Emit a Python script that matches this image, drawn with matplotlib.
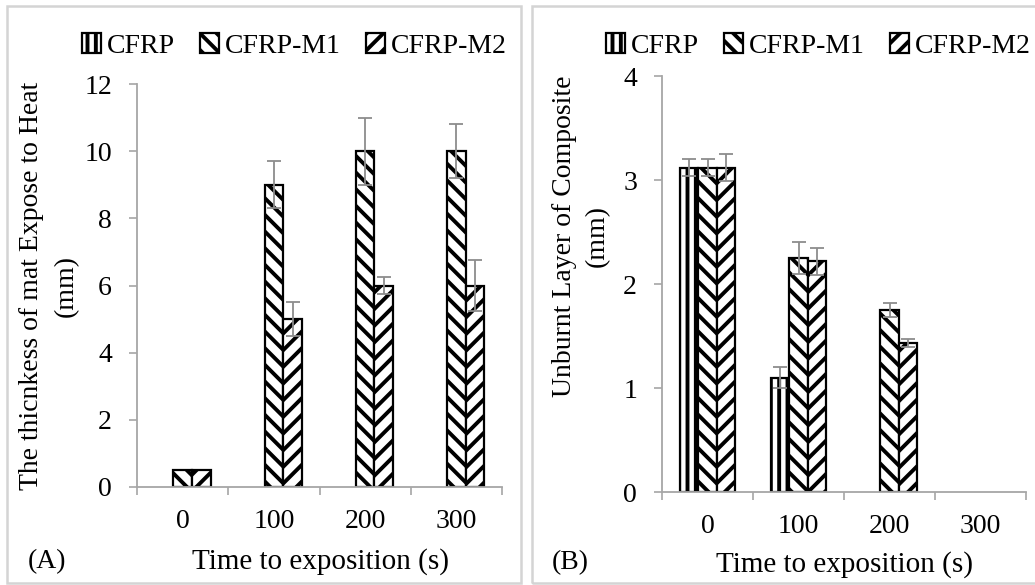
import matplotlib
matplotlib.use('Agg')
import matplotlib.pyplot as plt
from matplotlib.patches import Rectangle
import numpy as np

plt.rcParams['font.family'] = ['Liberation Serif', 'DejaVu Serif']
plt.rcParams['hatch.linewidth'] = 2.8
plt.rcParams['hatch.color'] = 'black'

times = ['0', '100', '200', '300']
series = ['CFRP', 'CFRP-M1', 'CFRP-M2']
hatches = ['||', '\\\\', '//']

# (A) thickness of mat exposed to heat (mm)
mat_cfrp = [0, 0, 0, 0]
mat_m1 = [0.5, 9.0, 10.0, 10.0]
mat_m2 = [0.5, 5.0, 6.0, 6.0]
mat_cfrp_err = [0, 0, 0, 0]
mat_m1_err = [0, 0.7, 1.0, 0.8]
mat_m2_err = [0, 0.5, 0.25, 0.75]

# (B) unburnt layer of composite (mm)
unb_cfrp = [3.12, 1.10, 0, 0]
unb_m1 = [3.12, 2.25, 1.75, 0]
unb_m2 = [3.12, 2.22, 1.43, 0]
unb_cfrp_err = [0.08, 0.10, 0, 0]
unb_m1_err = [0.08, 0.15, 0.07, 0]
unb_m2_err = [0.13, 0.13, 0.04, 0]

W, H = 1035, 585
FS = 20
AXC = '#a6a6a6'
fig = plt.figure(figsize=(W / 100, H / 100), dpi=100)


def fx(px):
    return px / W


def fy(py):
    return 1 - py / H


def draw_panel(rect, vals, errs, ymax, ystep):
    ax = fig.add_axes(rect)
    x = np.arange(len(times))
    w = 0.205
    for i, (v, e, h) in enumerate(zip(vals, errs, hatches)):
        b = ax.bar(x + (i - 1) * w, v, w, facecolor='white', edgecolor='black',
                   linewidth=1.6, hatch=h, zorder=2)
        # zero-height bars are not drawn in the original
        for patch in b:
            if patch.get_height() == 0:
                patch.set_visible(False)
        ev = np.array(v, dtype=float)
        ee = np.array(e, dtype=float)
        m = ee > 0
        ax.errorbar((x + (i - 1) * w)[m], ev[m], yerr=ee[m], fmt='none',
                    ecolor='#8c8c8c', elinewidth=1.3, capsize=5, capthick=1.3,
                    zorder=3)
    ax.set_xlim(-0.5, len(times) - 0.5)
    ax.set_ylim(0, ymax)
    ax.set_yticks(np.arange(0, ymax + 0.01, ystep))
    ax.set_xticks(x)
    ax.set_xticklabels(times)
    ax.set_xticks(np.arange(-0.5, len(times)), minor=True)
    ax.tick_params(axis='x', which='major', length=0, pad=16, labelsize=FS)
    ax.tick_params(axis='x', which='minor', length=6, width=1.2, color=AXC,
                   direction='out')
    ax.tick_params(axis='y', length=6, width=1.2, color=AXC, pad=12,
                   labelsize=FS)
    for s in ('top', 'right'):
        ax.spines[s].set_visible(False)
    for s in ('left', 'bottom'):
        ax.spines[s].set_color(AXC)
        ax.spines[s].set_linewidth(1.3)
    return ax


# panel frames
for x0, x1 in ((7, 521), (532, 1040)):
    fig.patches.append(Rectangle((fx(x0), fy(583)), fx(x1 - x0), (583 - 6) / H,
                                 transform=fig.transFigure, fill=False,
                                 edgecolor='#d4d4d4', linewidth=1.8))

axA = draw_panel([fx(137), fy(487), fx(502 - 137), (487 - 84) / H],
                 [mat_cfrp, mat_m1, mat_m2],
                 [mat_cfrp_err, mat_m1_err, mat_m2_err], 12, 2)
axB = draw_panel([fx(662), fy(492), fx(1026 - 662), (492 - 76) / H],
                 [unb_cfrp, unb_m1, unb_m2],
                 [unb_cfrp_err, unb_m1_err, unb_m2_err], 4, 1)

for cx in (294, 818):
    handles = [Rectangle((0, 0), 1, 1, facecolor='white', edgecolor='black',
                         linewidth=1.6, hatch=h) for h in hatches]
    fig.legend(handles, series, loc='center', bbox_to_anchor=(fx(cx), fy(46)),
               ncol=3, frameon=False, fontsize=FS, handlelength=0.7,
               handleheight=0.7, handletextpad=0.2, columnspacing=0.9,
               borderpad=0)

fig.text(fx(49), fy(286), 'The thicnkess of mat Expose to Heat\n(mm)',
         rotation=90, ha='center', va='center', fontsize=FS,
         multialignment='center', linespacing=1.5)
fig.text(fx(581), fy(236), 'Unburnt Layer of Composite\n(mm)',
         rotation=90, ha='center', va='center', fontsize=FS,
         multialignment='center', linespacing=1.45)

fig.text(fx(320), fy(562), 'Time to exposition (s)', ha='center',
         va='center', fontsize=FS + 1)
fig.text(fx(845), fy(565), 'Time to exposition (s)', ha='center',
         va='center', fontsize=FS + 1)
fig.text(fx(28), fy(562), '(A)', ha='left', va='center', fontsize=FS)
fig.text(fx(552), fy(563), '(B)', ha='left', va='center', fontsize=FS)

fig.savefig('out.png', dpi=100)
